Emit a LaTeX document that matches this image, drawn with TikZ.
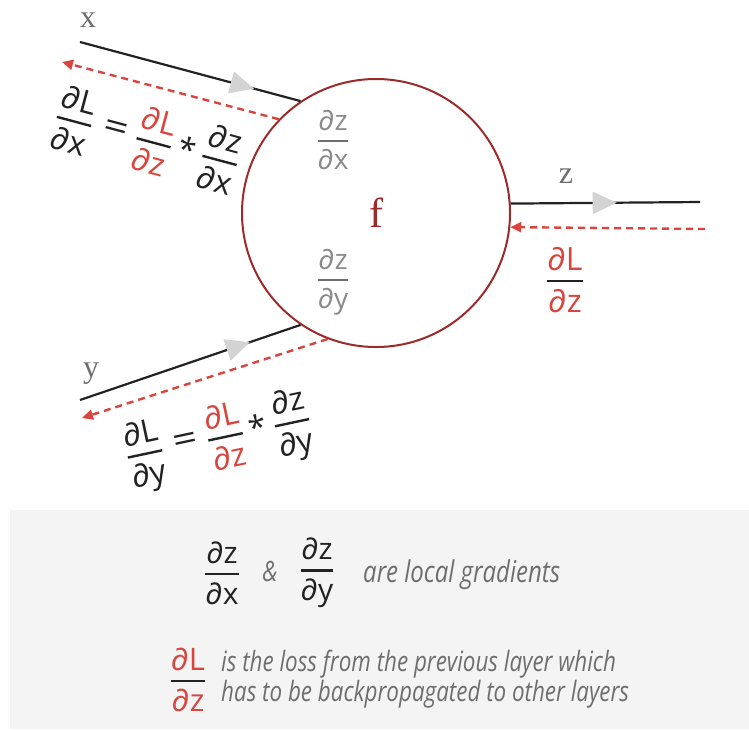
\documentclass[tikz,border=0pt]{standalone}
\usepackage{amsmath}
\usepackage{fontspec}
\setmainfont{Liberation Serif}
\newfontfamily\gradfont{Open Sans}
\newfontfamily\notefont[FakeStretch=0.8]{Open Sans}
\usetikzlibrary{arrows.meta, decorations.markings}

\definecolor{ink}{HTML}{222222}
\definecolor{softgray}{HTML}{6E6E6E}
\definecolor{lightink}{HTML}{8A8A8A}
\definecolor{tipgray}{HTML}{D3D3D3}
\definecolor{lossred}{HTML}{D8453E}
\definecolor{nodered}{HTML}{9B2B2B}
\definecolor{panel}{HTML}{F4F4F4}

% fraction with a thick bar, numbers in colour #1
\newcommand\fr[3][ink]{\ensuremath{\genfrac{}{}{2.4pt}{0}{\mbox{\color{#1}#2}}{\mbox{\color{#1}#3}}}}
\newcommand\tms{\hspace{6pt}\raisebox{-3pt}{*}\hspace{7pt}}
\newcommand\eqs{\hspace{11pt}\scalebox{1.35}[1.1]{=}\hspace{9pt}}

\tikzset{
  forward/.style={draw=ink, line width=2.2pt, postaction={decorate},
    decoration={markings, mark=at position #1 with {\arrow[tipgray]{Triangle[length=24pt,width=22pt]}}}},
  backward/.style={draw=lossred, line width=2.4pt, dash pattern=on 7pt off 5pt, -{Triangle[length=11pt,width=10pt]}},
  grad/.style={font=\gradfont\fontsize{28}{32}\selectfont, text=ink, inner sep=0pt},
  eqn/.style={font=\gradfont\fontsize{32}{36}\selectfont, text=ink, inner sep=0pt},
  varlabel/.style={font=\fontsize{32}{36}\selectfont, text=softgray, inner sep=0pt},
  note/.style={font=\notefont\itshape\fontsize{28}{30}\selectfont, text=softgray, inner sep=0pt},
}

\begin{document}
\begin{tikzpicture}[x=1pt, y=-1pt]
    \useasboundingbox (0,0) rectangle (749,729);
    \fill[panel] (10,510) rectangle (749,729);

    % Nodes
    \node[circle, draw=nodered, line width=2pt, minimum size=268pt, inner sep=0pt, text=nodered, font=\fontsize{42}{46}\selectfont] (f) at (376,213) {f};
    \node[grad, text=softgray] (dzdx) at (333,140) {\color{softgray}\fr[lightink]{∂z}{∂x}};
    \node[grad, text=softgray] (dzdy) at (333,282) {\color{softgray}\fr[lightink]{∂z}{∂y}};

    \coordinate (xin) at (80,42);
    \coordinate (yin) at (80,400);
    \coordinate (zout) at (700,202);
    \coordinate (xback) at (62,62);
    \coordinate (yback) at (82,418);
    \coordinate (zback) at (705,229);

    \node[varlabel] (xlab) at (88,20) {x};
    \node[varlabel] (ylab) at (91,374) {y};
    \node[varlabel] (zlab) at (566,176) {z};

    % Forward pass
    \draw[forward=0.79] (xin) -- (f.124);
    \draw[forward=0.77] (yin) -- (f.236);
    \draw[forward=0.56] (f.4.7) -- (zout);

    % Backward pass
    \draw[backward] (f.136) -- (xback);
    \draw[backward] (f.249) -- (yback);
    \draw[backward] (zback) -- (f.-6.7);

    \node[eqn, rotate=-15] (xeq) at (147,140) {\fr{∂L}{∂x}\eqs\fr[lossred]{∂L}{∂z}\tms\fr{∂z}{∂x}};
    \node[eqn, rotate=12] (yeq) at (219,441) {\fr{∂L}{∂y}\eqs\fr[lossred]{∂L}{∂z}\tms\fr{∂z}{∂y}};
    \node[eqn] (zloss) at (565,280) {\fr[lossred]{∂L}{∂z}};

    % Legend
    \node[grad, font=\gradfont\fontsize{30}{34}\selectfont] (locx) at (222,573) {\fr{∂z}{∂x}};
    \node[note] (amp) at (270,571) {\&};
    \node[grad, font=\gradfont\fontsize{30}{34}\selectfont] (locy) at (317,573) {\fr{∂z}{∂y}};
    \node[note, anchor=west, font=\notefont\itshape\fontsize{30}{32}\selectfont] (loctext) at (363,575) {are local gradients};
    \node[eqn, font=\gradfont\fontsize{31}{34}\selectfont] (loss) at (188,680) {\fr[lossred]{∂L}{∂z}};
    \node[note, anchor=west, align=left] (losstext) at (221,679) {is the loss from the previous layer which\\has to be backpropagated to other layers};
\end{tikzpicture}
\end{document}
